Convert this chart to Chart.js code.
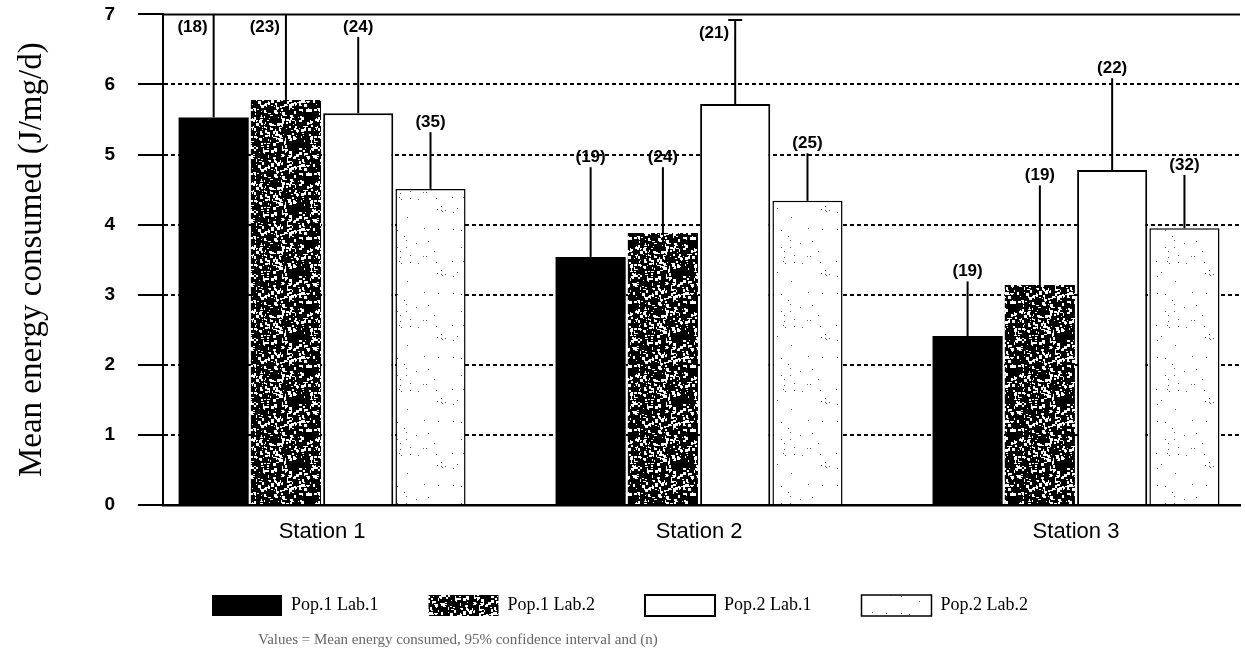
<!DOCTYPE html>
<html>
<head>
<meta charset="utf-8">
<script src="https://cdn.jsdelivr.net/npm/chart.js@4.4.1/dist/chart.umd.min.js"></script>
<style>
  html, body { margin: 0; padding: 0; background: #fff; }
</style>
</head>
<body>
<canvas id="chart" width="1245" height="661"></canvas>
<script>
const stations = ["Station 1", "Station 2", "Station 3"];
const seriesNames = ["Pop.1 Lab.1", "Pop.1 Lab.2", "Pop.2 Lab.1", "Pop.2 Lab.2"];

// mean energy consumed (J/mg/d)
const pop1Lab1 = [5.53, 3.54, 2.41];
const pop1Lab2 = [5.78, 3.88, 3.14];
const pop2Lab1 = [5.59, 5.72, 4.78];
const pop2Lab2 = [4.51, 4.34, 3.95];

// upper end of the 95% confidence interval
const pop1Lab1Upper = [7.2, 4.82, 3.19];
const pop1Lab2Upper = [7.2, 4.82, 4.56];
const pop2Lab1Upper = [6.68, 6.92, 6.09];
const pop2Lab2Upper = [5.32, 5.02, 4.71];

// sample sizes (n)
const pop1Lab1N = [18, 19, 19];
const pop1Lab2N = [23, 24, 19];
const pop2Lab1N = [24, 21, 22];
const pop2Lab2N = [35, 25, 32];

const yTicks = [0, 1, 2, 3, 4, 5, 6, 7];

const means = [pop1Lab1, pop1Lab2, pop2Lab1, pop2Lab2];
const uppers = [pop1Lab1Upper, pop1Lab2Upper, pop2Lab1Upper, pop2Lab2Upper];
const counts = [pop1Lab1N, pop1Lab2N, pop2Lab1N, pop2Lab2N];

const canvas = document.getElementById("chart");
const mainCtx = canvas.getContext("2d");

// speckled fills like the scanned print (fixed seed, texture only)
function speckle(bg, fg, count, maxSize, seed) {
  const c = document.createElement("canvas");
  c.width = 64; c.height = 64;
  const g = c.getContext("2d");
  g.fillStyle = bg;
  g.fillRect(0, 0, 64, 64);
  g.fillStyle = fg;
  let a = seed;
  const rnd = () => {
    a |= 0; a = a + 0x6D2B79F5 | 0;
    let t = Math.imul(a ^ a >>> 15, 1 | a);
    t = t + Math.imul(t ^ t >>> 7, 61 | t) ^ t;
    return ((t ^ t >>> 14) >>> 0) / 4294967296;
  };
  for (let i = 0; i < count; i++) {
    g.fillRect(Math.floor(rnd() * 64), Math.floor(rnd() * 64),
      1 + Math.floor(rnd() * maxSize), 1 + Math.floor(rnd() * maxSize));
  }
  return mainCtx.createPattern(c, "repeat");
}

const darkSpeckle = speckle("#000", "#fff", 340, 3, 11);
const lightSpeckle = speckle("#fff", "#666", 30, 1, 5);

const fills = ["#000", darkSpeckle, "#fff", lightSpeckle];
const borders = [0, 0, 2, 1.5];

const datasets = means.map((vals, d) => ({
  label: seriesNames[d],
  data: vals.map((v, i) => ({ x: i, y: v })),
  backgroundColor: fills[d],
  borderColor: "#000",
  borderWidth: borders[d],
  categoryPercentage: 0.767,
  barPercentage: 0.97
}));

const errorBars = {
  id: "errorBars",
  afterDatasetsDraw(chart) {
    const { ctx, chartArea, scales: { y } } = chart;
    ctx.save();
    ctx.strokeStyle = "#000";
    ctx.fillStyle = "#000";
    ctx.font = 'bold 17px "Liberation Sans"';
    ctx.textBaseline = "middle";
    chart.data.datasets.forEach((ds, d) => {
      chart.getDatasetMeta(d).data.forEach((bar, i) => {
        const hi = uppers[d][i];
        const tipY = Math.max(y.getPixelForValue(hi), chartArea.top);
        ctx.lineWidth = 2;
        ctx.beginPath();
        ctx.moveTo(bar.x, bar.y);
        ctx.lineTo(bar.x, tipY);
        ctx.stroke();
        const label = "(" + counts[d][i] + ")";
        if (hi > 6.8) {
          if (hi < 7) {
            ctx.beginPath();
            ctx.moveTo(bar.x - 7, tipY);
            ctx.lineTo(bar.x + 7, tipY);
            ctx.stroke();
          }
          ctx.textAlign = "right";
          ctx.fillText(label, bar.x - 6, tipY + 13);
        } else {
          ctx.textAlign = "center";
          ctx.fillText(label, bar.x, tipY - 10);
        }
      });
    });
    // top frame line
    ctx.lineWidth = 2;
    ctx.beginPath();
    ctx.moveTo(chartArea.left, chartArea.top);
    ctx.lineTo(chartArea.right, chartArea.top);
    ctx.stroke();
    ctx.restore();
  },
  afterDraw(chart) {
    const ctx = chart.ctx;
    ctx.save();
    ctx.font = '15px "Liberation Serif"';
    ctx.fillStyle = "#666";
    ctx.textAlign = "left";
    ctx.textBaseline = "middle";
    ctx.fillText("Values = Mean energy consumed, 95% confidence interval and (n)", 258, 640);
    ctx.restore();
  }
};

new Chart(canvas, {
  type: "bar",
  data: { datasets: datasets },
  options: {
    responsive: false,
    animation: false,
    layout: { padding: { top: 14, right: 5, bottom: 36, left: 0 } },
    plugins: {
      tooltip: { enabled: false },
      legend: {
        position: "bottom",
        maxHeight: 80,
        labels: {
          boxWidth: 70,
          boxHeight: 21,
          padding: 50,
          color: "#000",
          font: { family: "Liberation Serif", size: 18 }
        }
      }
    },
    scales: {
      x: {
        type: "linear",
        offset: false,
        min: -0.422,
        max: 2.435,
        afterBuildTicks: s => { s.ticks = stations.map((_, i) => ({ value: i })); },
        afterFit: s => { s.height = 40; },
        grid: { display: false, drawTicks: false },
        border: { color: "#000", width: 2.5 },
        ticks: {
          padding: 14,
          color: "#000",
          font: { family: "Liberation Sans", size: 22 },
          callback: v => stations[v]
        }
      },
      y: {
        min: 0,
        max: 7,
        afterBuildTicks: s => { s.ticks = yTicks.map(v => ({ value: v })); },
        afterFit: s => { s.width = 163; },
        grid: {
          color: c => (c.tick && (c.tick.value === 0 || c.tick.value === 7)) ? "rgba(0,0,0,0)" : "#000",
          lineWidth: 2,
          tickColor: "#000",
          tickWidth: 2,
          tickLength: 45,
          tickBorderDash: [0, 20, 26, 100]
        },
        border: { color: "#000", width: 2, dash: [4, 3] },
        ticks: {
          padding: 3,
          color: "#000",
          font: { family: "Liberation Sans", size: 19, weight: "bold" }
        },
        title: {
          display: true,
          text: "Mean energy consumed (J/mg/d)",
          color: "#000",
          padding: { top: 13, bottom: 0 },
          font: { family: "Liberation Serif", size: 33 }
        }
      }
    }
  },
  plugins: [errorBars]
});
</script>
</body>
</html>
